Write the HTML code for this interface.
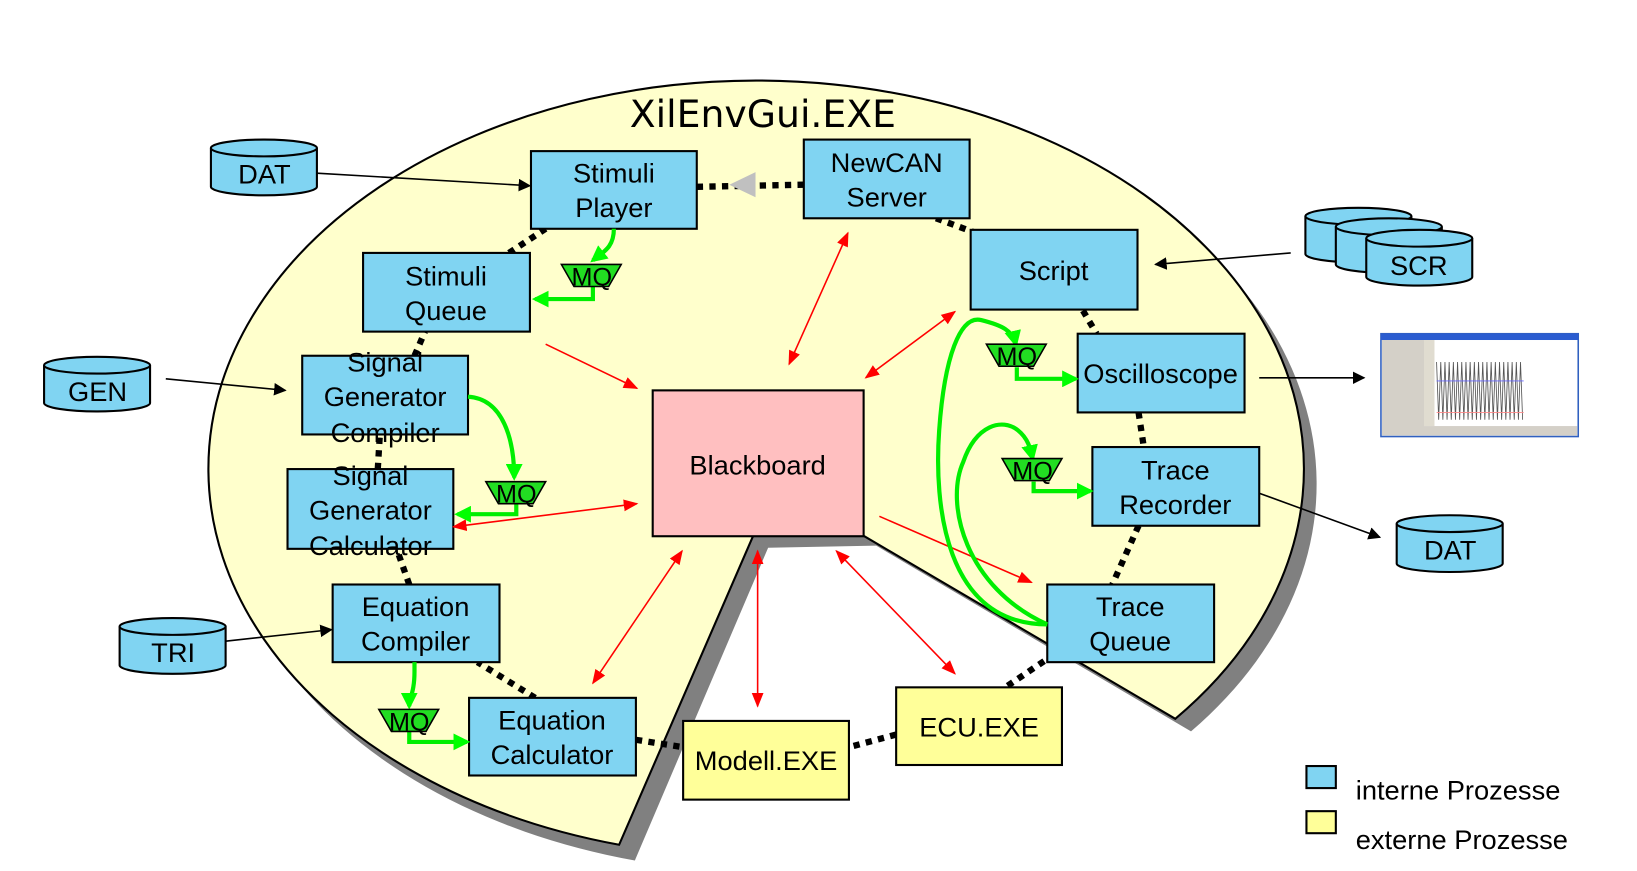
<!DOCTYPE html>
<html><head><meta charset="utf-8"><style>
html,body{margin:0;padding:0;background:#fff;}
svg{display:block;font-family:"Liberation Sans",sans-serif;}
</style></head><body>
<svg width="1637" height="871" viewBox="0 0 1560 830" xmlns="http://www.w3.org/2000/svg">
<defs>
<marker id="ab" viewBox="0 0 10 10" refX="9" refY="5" markerWidth="12" markerHeight="12" markerUnits="userSpaceOnUse" orient="auto-start-reverse"><path d="M0,0L10,5L0,10z" fill="#000"/></marker>
<marker id="ar" viewBox="0 0 10 10" refX="9" refY="5" markerWidth="14" markerHeight="14" markerUnits="userSpaceOnUse" orient="auto-start-reverse"><path d="M0,1L10,5L0,9z" fill="#f00"/></marker>
<marker id="ag" viewBox="0 0 10 10" refX="8" refY="5" markerWidth="16" markerHeight="16" markerUnits="userSpaceOnUse" orient="auto"><path d="M0,0L10,5L0,10z" fill="#0f0"/></marker>
</defs>
<path d="M732,522 L605,820 A522,370 0 1 1 1135,697 L835,520 Z" fill="#808080"/>
<path d="M718,510 L590,805 A522,370 0 1 1 1120,685 L822,510 Z" fill="#ffffcc" stroke="#000" stroke-width="2"/>
<text x="727" y="121" font-size="36" text-anchor="middle" font-family="DejaVu Sans, sans-serif">XilEnvGui.EXE</text>

<g stroke="#000" stroke-width="6" stroke-dasharray="6,6" fill="none">
<path d="M664,178 L766,176"/><path d="M892,208 L930,222"/><path d="M1032,296 L1045,318"/>
<path d="M1085,393 L1090,426"/><path d="M1085,501 L1060,557"/><path d="M995,630 L958,655"/>
<path d="M854,700 L809,712"/><path d="M606,705 L651,712"/><path d="M510,665 L455,631"/>
<path d="M390,557 L378,523"/><path d="M360,447 L362,414"/><path d="M395,339 L405,316"/><path d="M485,241 L520,218"/>
</g>
<path d="M695,176 L720,164 L720,188 Z" fill="#c0c0c0"/>

<g stroke="#000" stroke-width="2" font-size="26" text-anchor="middle">
<g><rect x="506" y="144" width="158" height="74" fill="#80d4f2"/><text x="585" y="174" stroke="none">Stimuli</text><text x="585" y="207" stroke="none">Player</text></g>
<g><rect x="766" y="133" width="158" height="75" fill="#80d4f2"/><text x="845" y="164" stroke="none">NewCAN</text><text x="845" y="197" stroke="none">Server</text></g>
<g><rect x="346" y="241" width="159" height="75" fill="#80d4f2"/><text x="425" y="272" stroke="none">Stimuli</text><text x="425" y="305" stroke="none">Queue</text></g>
<g><rect x="925" y="219" width="159" height="76" fill="#80d4f2"/><text x="1004" y="267" stroke="none">Script</text></g>
<g><rect x="288" y="339" width="158" height="75" fill="#80d4f2"/><text x="367" y="354" stroke="none">Signal</text><text x="367" y="387" stroke="none">Generator</text><text x="367" y="421" stroke="none">Compiler</text></g>
<g><rect x="1027" y="318" width="159" height="75" fill="#80d4f2"/><text x="1106" y="365" stroke="none">Oscilloscope</text></g>
<g><rect x="274" y="447" width="158" height="76" fill="#80d4f2"/><text x="353" y="462" stroke="none">Signal</text><text x="353" y="495" stroke="none">Generator</text><text x="353" y="529" stroke="none">Calculator</text></g>
<g><rect x="1041" y="426" width="159" height="75" fill="#80d4f2"/><text x="1120" y="457" stroke="none">Trace</text><text x="1120" y="490" stroke="none">Recorder</text></g>
<g><rect x="317" y="557" width="159" height="74" fill="#80d4f2"/><text x="396" y="587" stroke="none">Equation</text><text x="396" y="620" stroke="none">Compiler</text></g>
<g><rect x="998" y="557" width="159" height="74" fill="#80d4f2"/><text x="1077" y="587" stroke="none">Trace</text><text x="1077" y="620" stroke="none">Queue</text></g>
<g><rect x="447" y="665" width="159" height="74" fill="#80d4f2"/><text x="526" y="695" stroke="none">Equation</text><text x="526" y="728" stroke="none">Calculator</text></g>
<g><rect x="622" y="372" width="201" height="139" fill="#ffbfc0"/><text x="722" y="452" stroke="none">Blackboard</text></g>
<g><rect x="651" y="687" width="158" height="75" fill="#ffff99"/><text x="730" y="734" stroke="none">Modell.EXE</text></g>
<g><rect x="854" y="655" width="158" height="74" fill="#ffff99"/><text x="933" y="702" stroke="none">ECU.EXE</text></g>
</g>

<g stroke="#000" stroke-width="2" fill="#80d4f2" font-size="26" text-anchor="middle">
<g><path d="M201,141 V178 A50,8 0 0 0 302,178 V141"/><ellipse cx="251.5" cy="141" rx="50.5" ry="8"/><text x="252" y="175" stroke="none" fill="#000">DAT</text></g>
<g><path d="M42,348 V384 A50,8 0 0 0 143,384 V348"/><ellipse cx="92.5" cy="348" rx="50.5" ry="8"/><text x="93" y="382" stroke="none" fill="#000">GEN</text></g>
<g><path d="M114,597 V634 A50,8 0 0 0 215,634 V597"/><ellipse cx="164.5" cy="597" rx="50.5" ry="8"/><text x="165" y="631" stroke="none" fill="#000">TRI</text></g>
<g>
<path d="M1244,206 V242 A50,8 0 0 0 1345,242 V206"/><ellipse cx="1294.5" cy="206" rx="50.5" ry="8"/>
<path d="M1273,216 V252 A50,8 0 0 0 1374,252 V216"/><ellipse cx="1323.5" cy="216" rx="50.5" ry="8"/>
<path d="M1302,227 V264 A50,8 0 0 0 1403,264 V227"/><ellipse cx="1352.5" cy="227" rx="50.5" ry="8"/>
<text x="1352" y="262" stroke="none" fill="#000">SCR</text></g>
<g><path d="M1331,499 V537 A50,8 0 0 0 1432,537 V499"/><ellipse cx="1381.5" cy="499" rx="50.5" ry="8"/><text x="1382" y="533" stroke="none" fill="#000">DAT</text></g>
</g>

<g>
<rect x="1316" y="318" width="188" height="98" fill="#fff" stroke="#3060c0" stroke-width="1.5"/>
<rect x="1316" y="318" width="188" height="6" fill="#2a5cd0"/>
<rect x="1317" y="324" width="40" height="91" fill="#d4d0c8"/>
<rect x="1357" y="324" width="10" height="82" fill="#e0dcd0"/>
<rect x="1357" y="406" width="146" height="9" fill="#d4d0c8"/>
<path d="M1369,345 l2,55 l2,-55 l2,55 l2,-55 l2,55 l2,-55 l2,55 l2,-55 l2,55 l2,-55 l2,55 l2,-55 l2,55 l2,-55 l2,55 l2,-55 l2,55 l2,-55 l2,55 l2,-55 l2,55 l2,-55 l2,55 l2,-55 l2,55 l2,-55 l2,55 l2,-55 l2,55 l2,-55 l2,55 l2,-55 l2,55 l2,-55 l2,55 l2,-55 l2,55 l2,-55 l2,55 l2,-55 l2,55" stroke="#555" stroke-width="0.8" fill="none"/>
<line x1="1369" y1="363" x2="1452" y2="363" stroke="#66f" stroke-width="0.8"/>
<line x1="1369" y1="393" x2="1452" y2="393" stroke="#f88" stroke-width="0.8"/>
</g>

<g stroke="#000" stroke-width="1.5" marker-end="url(#ab)">
<line x1="302" y1="165" x2="505" y2="177"/><line x1="158" y1="361" x2="272" y2="372"/>
<line x1="215" y1="611" x2="316" y2="600"/><line x1="1230" y1="241" x2="1101" y2="252"/>
<line x1="1200" y1="360" x2="1300" y2="360"/><line x1="1200" y1="470" x2="1315" y2="512"/>
</g>

<g stroke="#f00" stroke-width="1.5" marker-end="url(#ar)">
<line x1="520" y1="328" x2="607" y2="370"/>
<line x1="808" y1="222" x2="752" y2="347" marker-start="url(#ar)"/>
<line x1="910" y1="297" x2="825" y2="360" marker-start="url(#ar)"/>
<line x1="432" y1="502" x2="607" y2="480" marker-start="url(#ar)"/>
<line x1="565" y1="651" x2="650" y2="525" marker-start="url(#ar)"/>
<line x1="722" y1="525" x2="722" y2="673" marker-start="url(#ar)"/>
<line x1="797" y1="525" x2="910" y2="642" marker-start="url(#ar)"/>
<line x1="838" y1="492" x2="983" y2="555"/>
</g>

<g stroke="#00ee00" stroke-width="4" fill="none">
<path d="M585,218 C585,236 575,240 565,248" marker-end="url(#ag)"/>
<path d="M565,272 V285 H510" marker-end="url(#ag)"/>
<path d="M446,378 C480,380 490,420 490,455" marker-end="url(#ag)"/>
<path d="M492,480 V490 H436" marker-end="url(#ag)"/>
<path d="M395,631 V640 C395,660 390,665 390,673" marker-end="url(#ag)"/>
<path d="M390,696 V707 H445" marker-end="url(#ag)"/>
<path d="M998,595 C900,595 890,480 895,410 C900,340 915,300 935,305 C955,310 965,315 968,328" marker-end="url(#ag)"/>
<path d="M969,350 V361 H1025" marker-end="url(#ag)"/>
<path d="M998,595 C920,560 900,480 918,440 C930,405 955,398 970,410 C980,418 982,428 984,437" marker-end="url(#ag)"/>
<path d="M985,459 V468 H1039" marker-end="url(#ag)"/>
</g>

<g stroke="#000" stroke-width="1.5" font-size="24" text-anchor="middle">
<g><path d="M535,252 H592 L580,273 H547 Z" fill="#22dd22"/><text x="564" y="272" stroke="none">MQ</text></g>
<g><path d="M463,459 H520 L508,480 H475 Z" fill="#22dd22"/><text x="492" y="479" stroke="none">MQ</text></g>
<g><path d="M361,676 H418 L406,697 H373 Z" fill="#22dd22"/><text x="390" y="696" stroke="none">MQ</text></g>
<g><path d="M940,328 H997 L985,349 H952 Z" fill="#22dd22"/><text x="969" y="348" stroke="none">MQ</text></g>
<g><path d="M955,437 H1012 L1000,458 H967 Z" fill="#22dd22"/><text x="984" y="457" stroke="none">MQ</text></g>
</g>

<g font-size="26">
<rect x="1245" y="730" width="28" height="21" fill="#80d4f2" stroke="#000" stroke-width="2"/>
<text x="1292" y="762">interne Prozesse</text>
<rect x="1245" y="773" width="28" height="21" fill="#ffff99" stroke="#000" stroke-width="2"/>
<text x="1292" y="809">externe Prozesse</text>
</g>
</svg>
</body></html>
